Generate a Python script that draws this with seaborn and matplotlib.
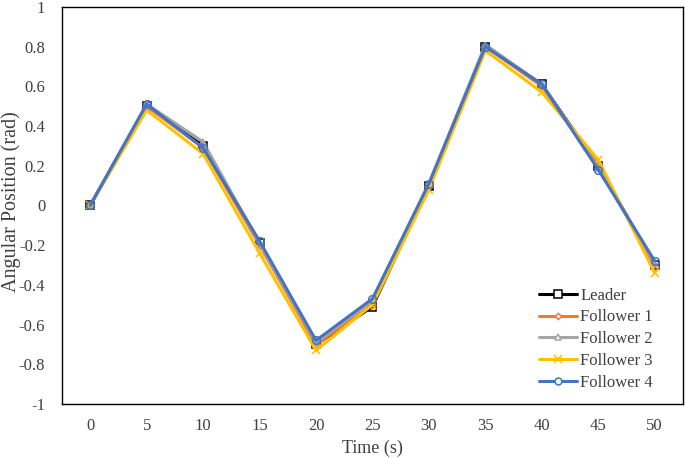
import pandas as pd
import matplotlib
matplotlib.use('Agg')
import matplotlib.pyplot as plt
import seaborn as sns

time_s = [0, 5, 10, 15, 20, 25, 30, 35, 40, 45, 50]
leader = [0.0, 0.50, 0.30, -0.19, -0.70, -0.51, 0.10, 0.80, 0.61, 0.20, -0.30]
follower1 = [0.0, 0.50, 0.29, -0.20, -0.70, -0.50, 0.10, 0.80, 0.60, 0.21, -0.31]
follower2 = [0.0, 0.51, 0.32, -0.19, -0.69, -0.48, 0.11, 0.81, 0.61, 0.19, -0.29]
follower3 = [0.0, 0.48, 0.26, -0.24, -0.73, -0.50, 0.08, 0.78, 0.57, 0.23, -0.34]
follower4 = [0.0, 0.51, 0.29, -0.18, -0.68, -0.47, 0.11, 0.80, 0.61, 0.18, -0.28]

names = ['Leader', 'Follower 1', 'Follower 2', 'Follower 3', 'Follower 4']
series = [leader, follower1, follower2, follower3, follower4]
colors = ['#000000', '#ED7D31', '#A5A5A5', '#FFC000', '#4472C4']
markers = ['s', 'D', '^', 'x', 'o']
msizes = [6, 3.5, 5, 6, 5.5]

sns.set_style('white')
plt.rcParams['font.family'] = ['Liberation Serif', 'DejaVu Serif']

fig = plt.figure(figsize=(6.85, 4.58), dpi=100)
ax = fig.add_axes([0.0905, 0.118, 0.9065, 0.867])

for name, vals, c, m, ms in zip(names, series, colors, markers, msizes):
    df = pd.DataFrame({'t': time_s, 'v': vals})
    sns.lineplot(data=df, x='t', y='v', ax=ax, color=c, linewidth=2.2,
                 marker=m, markersize=ms, markerfacecolor='none',
                 markeredgecolor=c, markeredgewidth=1.1, label=name)

ax.set_xlim(-2.5, 52.5)
ax.set_ylim(-1, 1)
ax.set_xticks(time_s)
ax.set_yticks([-1, -0.8, -0.6, -0.4, -0.2, 0, 0.2, 0.4, 0.6, 0.8, 1])
ax.set_yticklabels(['-1', '-0.8', '-0.6', '-0.4', '-0.2', '0', '0.2', '0.4', '0.6', '0.8', '1'])
ax.tick_params(axis='both', length=0, labelsize=12, colors='#404040', pad=12)
ax.tick_params(axis='x', pad=10)
for sp in ax.spines.values():
    sp.set_color('#000000')
    sp.set_linewidth(1.0)
ax.set_xlabel('Time (s)', fontsize=13, color='#404040', labelpad=4)
ax.set_ylabel('Angular Position (rad)', fontsize=14.5, color='#404040')
ax.yaxis.set_label_coords(-0.066, 0.51)

leg = ax.legend(loc='lower right', frameon=False, fontsize=12, handlelength=2.3,
                handletextpad=0.2, labelspacing=0.35, borderaxespad=0.1,
                bbox_to_anchor=(0.965, 0.012))
for t in leg.get_texts():
    t.set_color('#404040')
for h, ms in zip(leg.legend_handles, msizes):
    h.set_markerfacecolor('white')
    h.set_markersize(ms * 0.9)

fig.savefig('out.png', dpi=100)
